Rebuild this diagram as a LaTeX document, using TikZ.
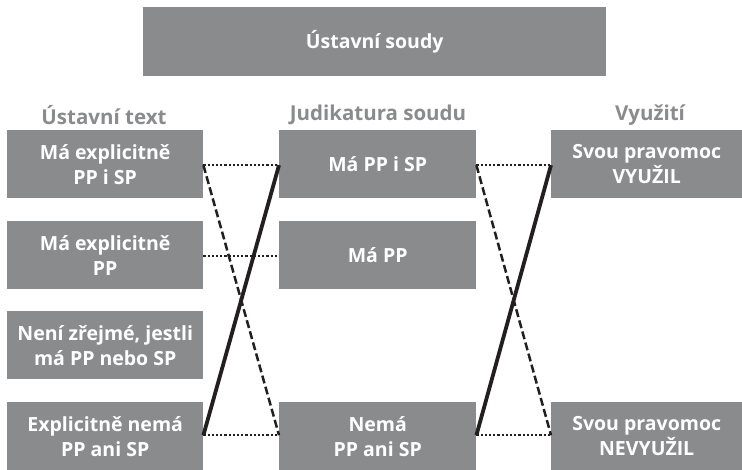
\documentclass[tikz,border=0pt]{standalone}
\usepackage{fontspec}
\setmainfont{Open Sans}
\definecolor{boxgray}{HTML}{8A8B8D}
\definecolor{linecol}{HTML}{231F20}
\begin{document}
\begin{tikzpicture}[x=1pt,y=-1pt,
  box/.style={fill=boxgray,text=white,font=\fontsize{19.5}{25}\selectfont\bfseries,align=center,inner sep=0pt,anchor=north west},
  head/.style={text=boxgray,font=\fontsize{20.5}{24}\selectfont\bfseries,inner sep=0pt},
  dotline/.style={linecol,line width=2.2pt,dash pattern=on 2.2pt off 2pt},
  dashline/.style={linecol,line width=2.5pt,dash pattern=on 8pt off 3.5pt},
  solidline/.style={linecol,line width=3.8pt}]
\useasboundingbox (0,0) rectangle (742,470);
\node[box,minimum width=463pt,minimum height=69pt] (top) at (143,7) {Ústavní soudy};
\node[head] (h1) at (104,115) {Ústavní text};
\node[head] (h2) at (378,115) {Judikatura soudu};
\node[head] (h3) at (650,115) {Využití};
% left column
\node[box,minimum width=196pt,minimum height=68pt] (l1) at (7,130) {Má explicitně\\PP i SP};
\node[box,minimum width=196pt,minimum height=68pt] (l2) at (7,221) {Má explicitně\\PP};
\node[box,minimum width=196pt,minimum height=68pt] (l3) at (7,311) {Není zřejmé, jestli\\má PP nebo SP};
\node[box,minimum width=196pt,minimum height=68pt] (l4) at (7,402) {Explicitně nemá\\PP ani SP};
% middle column
\node[box,minimum width=197pt,minimum height=68pt] (m1) at (279,130) {Má PP i SP};
\node[box,minimum width=197pt,minimum height=68pt] (m2) at (279,221) {Má PP};
\node[box,minimum width=197pt,minimum height=68pt] (m4) at (279,402) {Nemá\\PP ani SP};
% right column
\node[box,minimum width=191pt,minimum height=68pt] (r1) at (551,130) {Svou pravomoc\\VYUŽIL};
\node[box,minimum width=191pt,minimum height=68pt] (r4) at (551,402) {Svou pravomoc\\NEVYUŽIL};
% connector points
\coordinate (a1) at ([yshift=-1pt]l1.east);
\coordinate (b1) at ([yshift=-1pt]m1.west);
\coordinate (a2) at ([yshift=-1pt]l2.east);
\coordinate (b2) at ([yshift=-1pt]m2.west);
\coordinate (a4) at ([yshift=1pt]l4.east);
\coordinate (b4) at ([yshift=1pt]m4.west);
\coordinate (c1) at ([yshift=-1pt]m1.east);
\coordinate (d1) at ([yshift=-1pt]r1.west);
\coordinate (c4) at ([yshift=1pt]m4.east);
\coordinate (d4) at ([yshift=1pt]r4.west);
\draw[dotline] (a1) -- (b1);
\draw[dotline] (a2) -- (b2);
\draw[dotline] (a4) -- (b4);
\draw[dashline] (a1) -- (b4);
\draw[solidline] (b1) -- (a4);
\draw[dotline] (c1) -- (d1);
\draw[dotline] (c4) -- (d4);
\draw[dashline] (c1) -- (d4);
\draw[solidline] (d1) -- (c4);
\end{tikzpicture}
\end{document}
